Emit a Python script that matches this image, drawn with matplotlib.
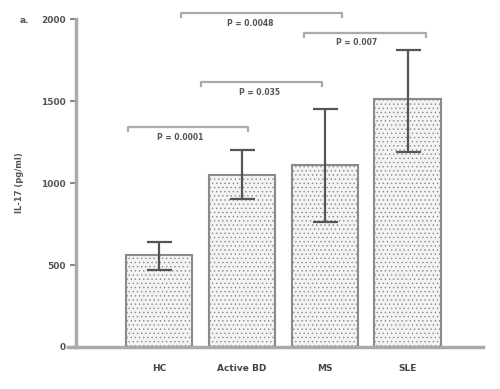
import matplotlib
matplotlib.use("Agg")
import matplotlib.pyplot as plt

groups = ["HC", "Active BD", "MS", "SLE"]
means = [560, 1050, 1110, 1510]
err_low = [90, 150, 350, 320]
err_high = [80, 150, 340, 300]

# comparisons: (x start, x end, bracket height, label, label x, label y)
brackets = [
    (-0.37, 1.08, 1340, "P = 0.0001", 0.26, 1280),
    (0.51, 1.97, 1615, "P = 0.035", 1.21, 1555),
    (0.27, 2.21, 2035, "P = 0.0048", 1.10, 1975),
    (1.75, 3.22, 1915, "P = 0.007", 2.39, 1860),
]

plt.rcParams["hatch.color"] = "#e2e2e2"
plt.rcParams["hatch.linewidth"] = 0.5

fig = plt.figure(figsize=(5, 3.89), dpi=100)
ax = fig.add_axes([0.152, 0.108, 0.814, 0.843])

x = list(range(len(groups)))
ax.bar(x, means, width=0.8, color="#f3f3f3", edgecolor="#8a8a8a",
       linewidth=1.5, hatch="....", zorder=2)
ax.errorbar(x, means, yerr=[err_low, err_high], fmt="none", ecolor="#555555",
            elinewidth=1.6, capsize=9, capthick=1.6, zorder=3)

for x0, x1, h, label, lx, ly in brackets:
    ax.plot([x0, x0, x1, x1], [h - 25, h, h, h - 25], color="#aaaaaa",
            lw=1.6, clip_on=False)
    ax.text(lx, ly, label, ha="center", va="center", fontsize=5.5,
            fontweight="bold", color="#555555", clip_on=False)

ax.set_xlim(-1.0, 3.91)
ax.set_ylim(0, 2000)
ax.set_yticks([0, 500, 1000, 1500, 2000])
ax.set_xticks(x)
ax.set_xticklabels(groups)
ax.tick_params(axis="x", length=0, pad=12, labelsize=6.5, labelcolor="#444444")
ax.tick_params(axis="y", length=4, width=1.5, color="#888888", labelsize=6.5,
               labelcolor="#555555")
for lab in ax.get_xticklabels() + ax.get_yticklabels():
    lab.set_fontweight("bold")
for side in ["top", "right"]:
    ax.spines[side].set_visible(False)
ax.spines["left"].set_color("#aaaaaa")
ax.spines["left"].set_linewidth(2.5)
ax.spines["bottom"].set_color("#aaaaaa")
ax.spines["bottom"].set_linewidth(2.5)
ax.spines["bottom"].set_bounds(-1.1, 3.91)

ax.set_ylabel("IL-17 (pg/ml)", fontsize=6, fontweight="bold", color="#555555",
              labelpad=12)
fig.text(0.04, 0.94, "a.", fontsize=6.5, fontweight="bold", color="#555555")

fig.savefig("out.png", dpi=100)
